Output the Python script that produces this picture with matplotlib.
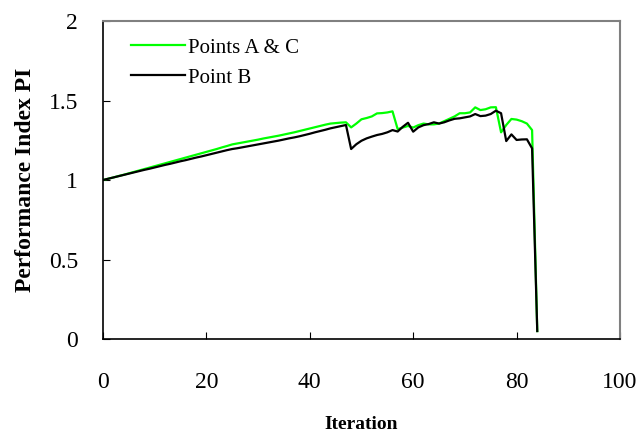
import matplotlib
matplotlib.use("Agg")
import matplotlib.pyplot as plt

plt.rcParams['font.family'] = ['Liberation Serif', 'DejaVu Serif']

iterations = list(range(85))

points_ac = [
    1.000, 1.008, 1.016, 1.025, 1.033, 1.042, 1.051, 1.060, 1.069, 1.078,
    1.087, 1.096, 1.105, 1.114, 1.123, 1.132, 1.141, 1.150, 1.159, 1.168,
    1.177, 1.186, 1.195, 1.205, 1.214, 1.224, 1.230, 1.236, 1.242, 1.248,
    1.254, 1.261, 1.267, 1.273, 1.279, 1.286, 1.293, 1.300, 1.308, 1.316,
    1.324, 1.332, 1.340, 1.348, 1.355, 1.358, 1.361, 1.363, 1.331, 1.355,
    1.382, 1.390, 1.400, 1.419, 1.421, 1.425, 1.432, 1.320, 1.330, 1.340,
    1.330, 1.345, 1.355, 1.350, 1.350, 1.355, 1.370, 1.385, 1.400, 1.420,
    1.420, 1.425, 1.457, 1.440, 1.445, 1.457, 1.458, 1.300, 1.346, 1.384,
    1.380, 1.370, 1.355, 1.314, 0.050,
]

point_b = [
    1.000, 1.008, 1.016, 1.024, 1.032, 1.040, 1.048, 1.056, 1.064, 1.071,
    1.079, 1.087, 1.095, 1.102, 1.110, 1.118, 1.125, 1.133, 1.141, 1.148,
    1.156, 1.164, 1.172, 1.180, 1.188, 1.195, 1.200, 1.206, 1.212, 1.218,
    1.224, 1.230, 1.236, 1.242, 1.248, 1.255, 1.262, 1.268, 1.275, 1.283,
    1.291, 1.300, 1.308, 1.316, 1.325, 1.332, 1.339, 1.346, 1.195, 1.225,
    1.247, 1.262, 1.273, 1.283, 1.290, 1.300, 1.314, 1.305, 1.335, 1.360,
    1.304, 1.331, 1.345, 1.352, 1.363, 1.355, 1.363, 1.375, 1.385, 1.388,
    1.394, 1.400, 1.415, 1.402, 1.405, 1.415, 1.436, 1.420, 1.245, 1.287,
    1.252, 1.255, 1.256, 1.199, 0.050,
]

x_ticks = [0, 20, 40, 60, 80, 100]
y_ticks = [0, 0.5, 1, 1.5, 2]

fig = plt.figure(figsize=(6.42, 4.38), dpi=100)
ax = fig.add_axes([0.1604, 0.226, 0.8053, 0.726])

ax.plot(iterations, points_ac, color='#00ff00', linewidth=1.6, label='Points A & C')
ax.plot(iterations, point_b, color='black', linewidth=1.6, label='Point B')

ax.set_xlim(0, 100)
ax.set_ylim(0, 2)
ax.set_xticks(x_ticks)
ax.set_yticks(y_ticks)
ax.set_xticklabels([str(t) for t in x_ticks])
ax.set_yticklabels(['0', '0.5', '1', '1.5', '2'])
ax.tick_params(axis='x', direction='in', length=5, pad=24, labelsize=17)
ax.tick_params(axis='y', direction='in', length=5, pad=18, labelsize=17)

for side in ['top', 'right']:
    ax.spines[side].set_color('#808080')
    ax.spines[side].set_linewidth(1.5)
for side in ['left', 'bottom']:
    ax.spines[side].set_color('black')
    ax.spines[side].set_linewidth(1.2)

ax.set_xlabel('Iteration', fontsize=14, fontweight='bold', labelpad=16)
ax.set_ylabel('Performance Index PI', fontsize=17, fontweight='bold', labelpad=9)

ax.legend(loc='upper left', bbox_to_anchor=(0.018, 1.005), frameon=False,
          fontsize=15, handlelength=2.6, handletextpad=0.15, labelspacing=0.5)

fig.savefig('out.png', dpi=100)
